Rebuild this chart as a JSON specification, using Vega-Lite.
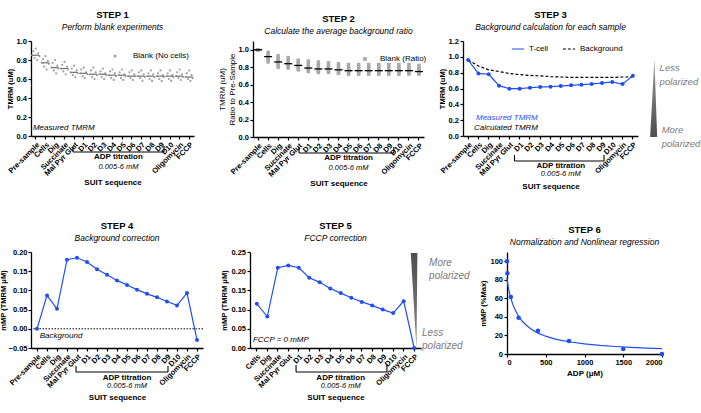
{
  "$schema": "https://vega.github.io/schema/vega-lite/v6.json",
  "background": "white",
  "padding": {"left": -1, "top": 10, "right": 0, "bottom": 0},
  "config": {
    "font": "Liberation Sans",
    "view": {"stroke": null},
    "axis": {
      "grid": false,
      "labelOverlap": false,
      "domainColor": "#000000",
      "domainWidth": 1.3,
      "tickColor": "#000000",
      "tickWidth": 1.2,
      "tickSize": 3,
      "labelFontSize": 7.5,
      "labelFontWeight": "bold",
      "labelColor": "#000000",
      "labelPadding": 1.5,
      "titleFontSize": 7.5,
      "titleFontWeight": "bold",
      "titleColor": "#000000",
      "titlePadding": 2
    },
    "title": {
      "fontSize": 9.5,
      "fontWeight": "bold",
      "color": "#000000",
      "subtitleFontSize": 8.5,
      "subtitleFontStyle": "italic",
      "subtitleColor": "#000000",
      "subtitlePadding": 3,
      "offset": 6,
      "anchor": "middle"
    },
    "legend": {"labelFontSize": 8, "labelColor": "#000000", "padding": 0}
  },
  "datasets": {
    "blank": [
      {"step": "Pre-sample", "rep": 1, "tmrm": 0.85}, {"step": "Pre-sample", "rep": 2, "tmrm": 0.89}, {"step": "Pre-sample", "rep": 3, "tmrm": 0.82}, {"step": "Pre-sample", "rep": 4, "tmrm": 0.92}, {"step": "Pre-sample", "rep": 5, "tmrm": 0.80}, {"step": "Pre-sample", "rep": 6, "tmrm": 0.87}, {"step": "Pre-sample", "rep": 7, "tmrm": 0.84},
      {"step": "Cells", "rep": 1, "tmrm": 0.77}, {"step": "Cells", "rep": 2, "tmrm": 0.81}, {"step": "Cells", "rep": 3, "tmrm": 0.73}, {"step": "Cells", "rep": 4, "tmrm": 0.84}, {"step": "Cells", "rep": 5, "tmrm": 0.70}, {"step": "Cells", "rep": 6, "tmrm": 0.79}, {"step": "Cells", "rep": 7, "tmrm": 0.76},
      {"step": "Dig", "rep": 1, "tmrm": 0.72}, {"step": "Dig", "rep": 2, "tmrm": 0.77}, {"step": "Dig", "rep": 3, "tmrm": 0.69}, {"step": "Dig", "rep": 4, "tmrm": 0.80}, {"step": "Dig", "rep": 5, "tmrm": 0.66}, {"step": "Dig", "rep": 6, "tmrm": 0.74}, {"step": "Dig", "rep": 7, "tmrm": 0.71},
      {"step": "Succinate", "rep": 1, "tmrm": 0.71}, {"step": "Succinate", "rep": 2, "tmrm": 0.75}, {"step": "Succinate", "rep": 3, "tmrm": 0.68}, {"step": "Succinate", "rep": 4, "tmrm": 0.78}, {"step": "Succinate", "rep": 5, "tmrm": 0.65}, {"step": "Succinate", "rep": 6, "tmrm": 0.73}, {"step": "Succinate", "rep": 7, "tmrm": 0.70},
      {"step": "Mal Pyr Glut", "rep": 1, "tmrm": 0.67}, {"step": "Mal Pyr Glut", "rep": 2, "tmrm": 0.71}, {"step": "Mal Pyr Glut", "rep": 3, "tmrm": 0.64}, {"step": "Mal Pyr Glut", "rep": 4, "tmrm": 0.74}, {"step": "Mal Pyr Glut", "rep": 5, "tmrm": 0.62}, {"step": "Mal Pyr Glut", "rep": 6, "tmrm": 0.69}, {"step": "Mal Pyr Glut", "rep": 7, "tmrm": 0.66},
      {"step": "D1", "rep": 1, "tmrm": 0.66}, {"step": "D1", "rep": 2, "tmrm": 0.70}, {"step": "D1", "rep": 3, "tmrm": 0.63}, {"step": "D1", "rep": 4, "tmrm": 0.72}, {"step": "D1", "rep": 5, "tmrm": 0.61}, {"step": "D1", "rep": 6, "tmrm": 0.67}, {"step": "D1", "rep": 7, "tmrm": 0.65},
      {"step": "D2", "rep": 1, "tmrm": 0.65}, {"step": "D2", "rep": 2, "tmrm": 0.69}, {"step": "D2", "rep": 3, "tmrm": 0.62}, {"step": "D2", "rep": 4, "tmrm": 0.72}, {"step": "D2", "rep": 5, "tmrm": 0.60}, {"step": "D2", "rep": 6, "tmrm": 0.67}, {"step": "D2", "rep": 7, "tmrm": 0.64},
      {"step": "D3", "rep": 1, "tmrm": 0.65}, {"step": "D3", "rep": 2, "tmrm": 0.68}, {"step": "D3", "rep": 3, "tmrm": 0.62}, {"step": "D3", "rep": 4, "tmrm": 0.71}, {"step": "D3", "rep": 5, "tmrm": 0.60}, {"step": "D3", "rep": 6, "tmrm": 0.66}, {"step": "D3", "rep": 7, "tmrm": 0.64},
      {"step": "D4", "rep": 1, "tmrm": 0.64}, {"step": "D4", "rep": 2, "tmrm": 0.68}, {"step": "D4", "rep": 3, "tmrm": 0.61}, {"step": "D4", "rep": 4, "tmrm": 0.70}, {"step": "D4", "rep": 5, "tmrm": 0.59}, {"step": "D4", "rep": 6, "tmrm": 0.66}, {"step": "D4", "rep": 7, "tmrm": 0.63},
      {"step": "D5", "rep": 1, "tmrm": 0.64}, {"step": "D5", "rep": 2, "tmrm": 0.67}, {"step": "D5", "rep": 3, "tmrm": 0.61}, {"step": "D5", "rep": 4, "tmrm": 0.70}, {"step": "D5", "rep": 5, "tmrm": 0.59}, {"step": "D5", "rep": 6, "tmrm": 0.65}, {"step": "D5", "rep": 7, "tmrm": 0.63},
      {"step": "D6", "rep": 1, "tmrm": 0.63}, {"step": "D6", "rep": 2, "tmrm": 0.67}, {"step": "D6", "rep": 3, "tmrm": 0.61}, {"step": "D6", "rep": 4, "tmrm": 0.69}, {"step": "D6", "rep": 5, "tmrm": 0.59}, {"step": "D6", "rep": 6, "tmrm": 0.65}, {"step": "D6", "rep": 7, "tmrm": 0.63},
      {"step": "D7", "rep": 1, "tmrm": 0.63}, {"step": "D7", "rep": 2, "tmrm": 0.67}, {"step": "D7", "rep": 3, "tmrm": 0.61}, {"step": "D7", "rep": 4, "tmrm": 0.69}, {"step": "D7", "rep": 5, "tmrm": 0.58}, {"step": "D7", "rep": 6, "tmrm": 0.65}, {"step": "D7", "rep": 7, "tmrm": 0.62},
      {"step": "D8", "rep": 1, "tmrm": 0.63}, {"step": "D8", "rep": 2, "tmrm": 0.66}, {"step": "D8", "rep": 3, "tmrm": 0.60}, {"step": "D8", "rep": 4, "tmrm": 0.69}, {"step": "D8", "rep": 5, "tmrm": 0.58}, {"step": "D8", "rep": 6, "tmrm": 0.65}, {"step": "D8", "rep": 7, "tmrm": 0.62},
      {"step": "D9", "rep": 1, "tmrm": 0.63}, {"step": "D9", "rep": 2, "tmrm": 0.66}, {"step": "D9", "rep": 3, "tmrm": 0.60}, {"step": "D9", "rep": 4, "tmrm": 0.69}, {"step": "D9", "rep": 5, "tmrm": 0.58}, {"step": "D9", "rep": 6, "tmrm": 0.64}, {"step": "D9", "rep": 7, "tmrm": 0.62},
      {"step": "D10", "rep": 1, "tmrm": 0.63}, {"step": "D10", "rep": 2, "tmrm": 0.66}, {"step": "D10", "rep": 3, "tmrm": 0.60}, {"step": "D10", "rep": 4, "tmrm": 0.69}, {"step": "D10", "rep": 5, "tmrm": 0.58}, {"step": "D10", "rep": 6, "tmrm": 0.64}, {"step": "D10", "rep": 7, "tmrm": 0.62},
      {"step": "Oligomycin", "rep": 1, "tmrm": 0.63}, {"step": "Oligomycin", "rep": 2, "tmrm": 0.67}, {"step": "Oligomycin", "rep": 3, "tmrm": 0.61}, {"step": "Oligomycin", "rep": 4, "tmrm": 0.70}, {"step": "Oligomycin", "rep": 5, "tmrm": 0.59}, {"step": "Oligomycin", "rep": 6, "tmrm": 0.65}, {"step": "Oligomycin", "rep": 7, "tmrm": 0.62},
      {"step": "FCCP", "rep": 1, "tmrm": 0.62}, {"step": "FCCP", "rep": 2, "tmrm": 0.66}, {"step": "FCCP", "rep": 3, "tmrm": 0.60}, {"step": "FCCP", "rep": 4, "tmrm": 0.69}, {"step": "FCCP", "rep": 5, "tmrm": 0.58}, {"step": "FCCP", "rep": 6, "tmrm": 0.64}, {"step": "FCCP", "rep": 7, "tmrm": 0.61}
    ],
    "ratio": [
      {"step": "Pre-sample", "rep": 1, "ratio": 1.0}, {"step": "Pre-sample", "rep": 2, "ratio": 1.0}, {"step": "Pre-sample", "rep": 3, "ratio": 1.0}, {"step": "Pre-sample", "rep": 4, "ratio": 1.0}, {"step": "Pre-sample", "rep": 5, "ratio": 1.0}, {"step": "Pre-sample", "rep": 6, "ratio": 1.0}, {"step": "Pre-sample", "rep": 7, "ratio": 1.0},
      {"step": "Cells", "rep": 1, "ratio": 0.92}, {"step": "Cells", "rep": 2, "ratio": 0.95}, {"step": "Cells", "rep": 3, "ratio": 0.89}, {"step": "Cells", "rep": 4, "ratio": 0.97}, {"step": "Cells", "rep": 5, "ratio": 0.86}, {"step": "Cells", "rep": 6, "ratio": 0.93}, {"step": "Cells", "rep": 7, "ratio": 0.91},
      {"step": "Dig", "rep": 1, "ratio": 0.86}, {"step": "Dig", "rep": 2, "ratio": 0.90}, {"step": "Dig", "rep": 3, "ratio": 0.83}, {"step": "Dig", "rep": 4, "ratio": 0.93}, {"step": "Dig", "rep": 5, "ratio": 0.80}, {"step": "Dig", "rep": 6, "ratio": 0.88}, {"step": "Dig", "rep": 7, "ratio": 0.85},
      {"step": "Succinate", "rep": 1, "ratio": 0.84}, {"step": "Succinate", "rep": 2, "ratio": 0.88}, {"step": "Succinate", "rep": 3, "ratio": 0.81}, {"step": "Succinate", "rep": 4, "ratio": 0.91}, {"step": "Succinate", "rep": 5, "ratio": 0.79}, {"step": "Succinate", "rep": 6, "ratio": 0.86}, {"step": "Succinate", "rep": 7, "ratio": 0.83},
      {"step": "Mal Pyr Glut", "rep": 1, "ratio": 0.82}, {"step": "Mal Pyr Glut", "rep": 2, "ratio": 0.86}, {"step": "Mal Pyr Glut", "rep": 3, "ratio": 0.79}, {"step": "Mal Pyr Glut", "rep": 4, "ratio": 0.88}, {"step": "Mal Pyr Glut", "rep": 5, "ratio": 0.77}, {"step": "Mal Pyr Glut", "rep": 6, "ratio": 0.84}, {"step": "Mal Pyr Glut", "rep": 7, "ratio": 0.81},
      {"step": "D1", "rep": 1, "ratio": 0.79}, {"step": "D1", "rep": 2, "ratio": 0.84}, {"step": "D1", "rep": 3, "ratio": 0.77}, {"step": "D1", "rep": 4, "ratio": 0.87}, {"step": "D1", "rep": 5, "ratio": 0.75}, {"step": "D1", "rep": 6, "ratio": 0.81}, {"step": "D1", "rep": 7, "ratio": 0.78},
      {"step": "D2", "rep": 1, "ratio": 0.78}, {"step": "D2", "rep": 2, "ratio": 0.83}, {"step": "D2", "rep": 3, "ratio": 0.76}, {"step": "D2", "rep": 4, "ratio": 0.86}, {"step": "D2", "rep": 5, "ratio": 0.74}, {"step": "D2", "rep": 6, "ratio": 0.80}, {"step": "D2", "rep": 7, "ratio": 0.77},
      {"step": "D3", "rep": 1, "ratio": 0.78}, {"step": "D3", "rep": 2, "ratio": 0.82}, {"step": "D3", "rep": 3, "ratio": 0.76}, {"step": "D3", "rep": 4, "ratio": 0.85}, {"step": "D3", "rep": 5, "ratio": 0.74}, {"step": "D3", "rep": 6, "ratio": 0.80}, {"step": "D3", "rep": 7, "ratio": 0.77},
      {"step": "D4", "rep": 1, "ratio": 0.77}, {"step": "D4", "rep": 2, "ratio": 0.81}, {"step": "D4", "rep": 3, "ratio": 0.75}, {"step": "D4", "rep": 4, "ratio": 0.84}, {"step": "D4", "rep": 5, "ratio": 0.73}, {"step": "D4", "rep": 6, "ratio": 0.79}, {"step": "D4", "rep": 7, "ratio": 0.76},
      {"step": "D5", "rep": 1, "ratio": 0.76}, {"step": "D5", "rep": 2, "ratio": 0.80}, {"step": "D5", "rep": 3, "ratio": 0.74}, {"step": "D5", "rep": 4, "ratio": 0.83}, {"step": "D5", "rep": 5, "ratio": 0.72}, {"step": "D5", "rep": 6, "ratio": 0.78}, {"step": "D5", "rep": 7, "ratio": 0.75},
      {"step": "D6", "rep": 1, "ratio": 0.76}, {"step": "D6", "rep": 2, "ratio": 0.80}, {"step": "D6", "rep": 3, "ratio": 0.74}, {"step": "D6", "rep": 4, "ratio": 0.83}, {"step": "D6", "rep": 5, "ratio": 0.72}, {"step": "D6", "rep": 6, "ratio": 0.78}, {"step": "D6", "rep": 7, "ratio": 0.75},
      {"step": "D7", "rep": 1, "ratio": 0.76}, {"step": "D7", "rep": 2, "ratio": 0.80}, {"step": "D7", "rep": 3, "ratio": 0.74}, {"step": "D7", "rep": 4, "ratio": 0.83}, {"step": "D7", "rep": 5, "ratio": 0.72}, {"step": "D7", "rep": 6, "ratio": 0.78}, {"step": "D7", "rep": 7, "ratio": 0.75},
      {"step": "D8", "rep": 1, "ratio": 0.76}, {"step": "D8", "rep": 2, "ratio": 0.80}, {"step": "D8", "rep": 3, "ratio": 0.74}, {"step": "D8", "rep": 4, "ratio": 0.83}, {"step": "D8", "rep": 5, "ratio": 0.72}, {"step": "D8", "rep": 6, "ratio": 0.78}, {"step": "D8", "rep": 7, "ratio": 0.75},
      {"step": "D9", "rep": 1, "ratio": 0.76}, {"step": "D9", "rep": 2, "ratio": 0.80}, {"step": "D9", "rep": 3, "ratio": 0.74}, {"step": "D9", "rep": 4, "ratio": 0.83}, {"step": "D9", "rep": 5, "ratio": 0.72}, {"step": "D9", "rep": 6, "ratio": 0.78}, {"step": "D9", "rep": 7, "ratio": 0.75},
      {"step": "D10", "rep": 1, "ratio": 0.76}, {"step": "D10", "rep": 2, "ratio": 0.80}, {"step": "D10", "rep": 3, "ratio": 0.74}, {"step": "D10", "rep": 4, "ratio": 0.83}, {"step": "D10", "rep": 5, "ratio": 0.72}, {"step": "D10", "rep": 6, "ratio": 0.78}, {"step": "D10", "rep": 7, "ratio": 0.75},
      {"step": "Oligomycin", "rep": 1, "ratio": 0.76}, {"step": "Oligomycin", "rep": 2, "ratio": 0.80}, {"step": "Oligomycin", "rep": 3, "ratio": 0.74}, {"step": "Oligomycin", "rep": 4, "ratio": 0.83}, {"step": "Oligomycin", "rep": 5, "ratio": 0.72}, {"step": "Oligomycin", "rep": 6, "ratio": 0.78}, {"step": "Oligomycin", "rep": 7, "ratio": 0.75},
      {"step": "FCCP", "rep": 1, "ratio": 0.75}, {"step": "FCCP", "rep": 2, "ratio": 0.79}, {"step": "FCCP", "rep": 3, "ratio": 0.73}, {"step": "FCCP", "rep": 4, "ratio": 0.82}, {"step": "FCCP", "rep": 5, "ratio": 0.72}, {"step": "FCCP", "rep": 6, "ratio": 0.77}, {"step": "FCCP", "rep": 7, "ratio": 0.74}
    ],
    "tcell": [
      {"step": "Pre-sample", "series": "T-cell", "tmrm": 0.96}, {"step": "Cells", "series": "T-cell", "tmrm": 0.79}, {"step": "Dig", "series": "T-cell", "tmrm": 0.78}, {"step": "Succinate", "series": "T-cell", "tmrm": 0.636}, {"step": "Mal Pyr Glut", "series": "T-cell", "tmrm": 0.598}, {"step": "D1", "series": "T-cell", "tmrm": 0.598}, {"step": "D2", "series": "T-cell", "tmrm": 0.61}, {"step": "D3", "series": "T-cell", "tmrm": 0.619}, {"step": "D4", "series": "T-cell", "tmrm": 0.623}, {"step": "D5", "series": "T-cell", "tmrm": 0.632}, {"step": "D6", "series": "T-cell", "tmrm": 0.64}, {"step": "D7", "series": "T-cell", "tmrm": 0.648}, {"step": "D8", "series": "T-cell", "tmrm": 0.657}, {"step": "D9", "series": "T-cell", "tmrm": 0.67}, {"step": "D10", "series": "T-cell", "tmrm": 0.682}, {"step": "Oligomycin", "series": "T-cell", "tmrm": 0.657}, {"step": "FCCP", "series": "T-cell", "tmrm": 0.762},
      {"step": "Pre-sample", "series": "Background", "tmrm": 0.96}, {"step": "Cells", "series": "Background", "tmrm": 0.885}, {"step": "Dig", "series": "Background", "tmrm": 0.835}, {"step": "Succinate", "series": "Background", "tmrm": 0.815}, {"step": "Mal Pyr Glut", "series": "Background", "tmrm": 0.79}, {"step": "D1", "series": "Background", "tmrm": 0.775}, {"step": "D2", "series": "Background", "tmrm": 0.765}, {"step": "D3", "series": "Background", "tmrm": 0.76}, {"step": "D4", "series": "Background", "tmrm": 0.75}, {"step": "D5", "series": "Background", "tmrm": 0.745}, {"step": "D6", "series": "Background", "tmrm": 0.74}, {"step": "D7", "series": "Background", "tmrm": 0.74}, {"step": "D8", "series": "Background", "tmrm": 0.74}, {"step": "D9", "series": "Background", "tmrm": 0.74}, {"step": "D10", "series": "Background", "tmrm": 0.74}, {"step": "Oligomycin", "series": "Background", "tmrm": 0.745}, {"step": "FCCP", "series": "Background", "tmrm": 0.745}
    ],
    "corrected": [
      {"step": "Pre-sample", "mmp": 0.0}, {"step": "Cells", "mmp": 0.087}, {"step": "Dig", "mmp": 0.052}, {"step": "Succinate", "mmp": 0.18}, {"step": "Mal Pyr Glut", "mmp": 0.185}, {"step": "D1", "mmp": 0.174}, {"step": "D2", "mmp": 0.155}, {"step": "D3", "mmp": 0.141}, {"step": "D4", "mmp": 0.126}, {"step": "D5", "mmp": 0.114}, {"step": "D6", "mmp": 0.102}, {"step": "D7", "mmp": 0.091}, {"step": "D8", "mmp": 0.082}, {"step": "D9", "mmp": 0.071}, {"step": "D10", "mmp": 0.061}, {"step": "Oligomycin", "mmp": 0.093}, {"step": "FCCP", "mmp": -0.029}
    ],
    "fccp": [
      {"step": "Cells", "mmp": 0.115}, {"step": "Dig", "mmp": 0.082}, {"step": "Succinate", "mmp": 0.209}, {"step": "Mal Pyr Glut", "mmp": 0.215}, {"step": "D1", "mmp": 0.209}, {"step": "D2", "mmp": 0.183}, {"step": "D3", "mmp": 0.171}, {"step": "D4", "mmp": 0.155}, {"step": "D5", "mmp": 0.143}, {"step": "D6", "mmp": 0.131}, {"step": "D7", "mmp": 0.12}, {"step": "D8", "mmp": 0.111}, {"step": "D9", "mmp": 0.1}, {"step": "D10", "mmp": 0.091}, {"step": "Oligomycin", "mmp": 0.122}, {"step": "FCCP", "mmp": 0.0}
    ],
    "normalized": [
      {"adp": 0, "pct": 100}, {"adp": 5, "pct": 87}, {"adp": 50, "pct": 61.5}, {"adp": 150, "pct": 39}, {"adp": 400, "pct": 25}, {"adp": 800, "pct": 14}, {"adp": 1500, "pct": 5.5}, {"adp": 2000, "pct": 0}
    ],
    "fit": [
      {"adp": 0, "pct": 82}, {"adp": 10, "pct": 75}, {"adp": 20, "pct": 70.5}, {"adp": 30, "pct": 66.5}, {"adp": 50, "pct": 60}, {"adp": 75, "pct": 53.5}, {"adp": 100, "pct": 48.5}, {"adp": 150, "pct": 40.5}, {"adp": 200, "pct": 35}, {"adp": 250, "pct": 31}, {"adp": 300, "pct": 27.5}, {"adp": 400, "pct": 22.5}, {"adp": 500, "pct": 19.2}, {"adp": 600, "pct": 16.6}, {"adp": 700, "pct": 14.7}, {"adp": 800, "pct": 13.2}, {"adp": 1000, "pct": 10.9}, {"adp": 1200, "pct": 9.3}, {"adp": 1400, "pct": 8.1}, {"adp": 1600, "pct": 7.2}, {"adp": 1800, "pct": 6.4}, {"adp": 2000, "pct": 5.9}
    ]
  },
  "spacing": 30,
  "resolve": {"scale": {"color": "independent", "strokeDash": "independent"}, "legend": {"color": "independent", "strokeDash": "independent"}},
  "vconcat": [
    {
      "bounds": "flush",
      "spacing": 0,
      "resolve": {"scale": {"color": "independent", "strokeDash": "independent"}, "legend": {"color": "independent", "strokeDash": "independent"}},
      "hconcat": [
        {
          "width": 163,
          "height": 95,
          "title": {"text": "STEP 1", "subtitle": "Perform blank experiments"},
          "layer": [
            {
              "data": {"name": "blank"},
              "mark": {"type": "circle", "size": 5, "opacity": 1},
              "encoding": {
                "x": {
                  "field": "step", "type": "nominal",
                  "scale": {"type": "band", "domain": ["Pre-sample", "Cells", "Dig", "Succinate", "Mal Pyr Glut", "D1", "D2", "D3", "D4", "D5", "D6", "D7", "D8", "D9", "D10", "Oligomycin", "FCCP"], "paddingInner": 0, "paddingOuter": 0},
                  "axis": {"labelAngle": -45, "title": "SUIT sequence", "titleFontSize": 8, "titlePadding": 2}
                },
                "xOffset": {"field": "rep", "type": "nominal", "scale": {"type": "point", "padding": 1}},
                "y": {
                  "field": "tmrm", "type": "quantitative",
                  "scale": {"domain": [0, 1], "nice": false},
                  "axis": {"values": [0, 0.2, 0.4, 0.6, 0.8, 1], "tickCount": 20, "format": ".1f", "title": "TMRM (uM)"}
                },
                "color": {
                  "datum": "Blank (No cells)",
                  "scale": {"range": ["#a0a0a0"]},
                  "legend": {"title": null, "orient": "none", "legendX": 80, "legendY": 11, "symbolType": "circle", "symbolSize": 10, "labelOffset": 14}
                }
              }
            },
            {
              "data": {"name": "blank"},
              "mark": {"type": "tick", "color": "#707070", "thickness": 1.2, "size": 7},
              "encoding": {
                "x": {"field": "step", "type": "nominal"},
                "y": {"aggregate": "median", "field": "tmrm", "type": "quantitative"}
              }
            },
            {
              "data": {"values": [{}]},
              "mark": {"type": "text", "text": "Measured TMRM", "fontStyle": "italic", "fontSize": 8, "align": "left"},
              "encoding": {"x": {"datum": "Pre-sample", "bandPosition": 0.2}, "y": {"datum": 0.084}}
            },
            {
              "data": {"values": [{}]},
              "mark": {"type": "rule", "color": "#000000", "strokeWidth": 1.1},
              "encoding": {"x": {"datum": "Mal Pyr Glut", "bandPosition": 0.38}, "x2": {"datum": "D9", "bandPosition": 0.87}, "y": {"datum": -0.168}}
            },
            {
              "data": {"values": [{}]},
              "mark": {"type": "rule", "color": "#000000", "strokeWidth": 1.1},
              "encoding": {"x": {"datum": "Mal Pyr Glut", "bandPosition": 0.38}, "y": {"datum": -0.168}, "y2": {"datum": -0.105}}
            },
            {
              "data": {"values": [{}]},
              "mark": {"type": "rule", "color": "#000000", "strokeWidth": 1.1},
              "encoding": {"x": {"datum": "D9", "bandPosition": 0.87}, "y": {"datum": -0.168}, "y2": {"datum": -0.105}}
            },
            {
              "data": {"values": [{}]},
              "mark": {"type": "text", "text": "ADP titration", "fontWeight": "bold", "fontSize": 8},
              "encoding": {"x": {"datum": "D5", "bandPosition": 0.12}, "y": {"datum": -0.221}}
            },
            {
              "data": {"values": [{}]},
              "mark": {"type": "text", "text": "0.005-6 mM", "fontStyle": "italic", "fontSize": 7.5},
              "encoding": {"x": {"datum": "D5", "bandPosition": 0.12}, "y": {"datum": -0.326}}
            }
          ]
        },
        {"width": 59, "height": 1, "data": {"values": []}, "mark": "point"},
        {
          "width": 171,
          "height": 96,
          "title": {"text": "STEP 2", "subtitle": "Calculate the average background ratio"},
          "layer": [
            {
              "data": {"name": "ratio"},
              "mark": {"type": "square", "size": 12, "opacity": 1},
              "encoding": {
                "x": {
                  "field": "step", "type": "nominal", "bandPosition": 0.5,
                  "scale": {"type": "band", "domain": ["Pre-sample", "Cells", "Dig", "Succinate", "Mal Pyr Glut", "D1", "D2", "D3", "D4", "D5", "D6", "D7", "D8", "D9", "D10", "Oligomycin", "FCCP"], "paddingInner": 0, "paddingOuter": 0},
                  "axis": {"labelAngle": -45, "title": "SUIT sequence", "titleFontSize": 8, "titlePadding": 2}
                },
                "y": {
                  "field": "ratio", "type": "quantitative",
                  "scale": {"domain": [0, 1.1], "nice": false},
                  "axis": {"values": [0, 0.2, 0.4, 0.6, 0.8, 1], "tickCount": 20, "format": ".1f", "title": ["TMRM (uM)", "Ratio to Pre-Sample"], "titleFontWeight": "normal", "titleFontSize": 8}
                },
                "color": {
                  "datum": "Blank (Ratio)",
                  "scale": {"range": ["#a8a8a8"]},
                  "legend": {"title": null, "orient": "none", "legendX": 108, "legendY": 14, "symbolType": "square", "symbolSize": 14, "labelOffset": 11}
                }
              }
            },
            {
              "data": {"name": "ratio"},
              "mark": {"type": "tick", "color": "#000000", "thickness": 1.3, "size": 8},
              "encoding": {
                "x": {"field": "step", "type": "nominal"},
                "y": {"aggregate": "median", "field": "ratio", "type": "quantitative"}
              }
            },
            {
              "data": {"values": [{}]},
              "mark": {"type": "rule", "color": "#000000", "strokeWidth": 1.1},
              "encoding": {"x": {"datum": "Mal Pyr Glut", "bandPosition": 0.58}, "x2": {"datum": "D9", "bandPosition": 1}, "y": {"datum": -0.183}}
            },
            {
              "data": {"values": [{}]},
              "mark": {"type": "rule", "color": "#000000", "strokeWidth": 1.1},
              "encoding": {"x": {"datum": "Mal Pyr Glut", "bandPosition": 0.58}, "y": {"datum": -0.183}, "y2": {"datum": -0.115}}
            },
            {
              "data": {"values": [{}]},
              "mark": {"type": "rule", "color": "#000000", "strokeWidth": 1.1},
              "encoding": {"x": {"datum": "D9", "bandPosition": 1}, "y": {"datum": -0.183}, "y2": {"datum": -0.115}}
            },
            {
              "data": {"values": [{}]},
              "mark": {"type": "text", "text": "ADP titration", "fontWeight": "bold", "fontSize": 8},
              "encoding": {"x": {"datum": "D5", "bandPosition": 0.5}, "y": {"datum": -0.241}}
            },
            {
              "data": {"values": [{}]},
              "mark": {"type": "text", "text": "0.005-6 mM", "fontStyle": "italic", "fontSize": 7.5},
              "encoding": {"x": {"datum": "D5", "bandPosition": 0.5}, "y": {"datum": -0.355}}
            }
          ]
        },
        {"width": 39, "height": 1, "data": {"values": []}, "mark": "point"},
        {
          "width": 175,
          "height": 95,
          "title": {"text": "STEP 3", "subtitle": "Background calculation for each sample"},
          "layer": [
            {
              "data": {"name": "tcell"},
              "mark": {"type": "line", "strokeWidth": 1.2},
              "encoding": {
                "x": {
                  "field": "step", "type": "nominal", "bandPosition": 0.5,
                  "scale": {"type": "band", "domain": ["Pre-sample", "Cells", "Dig", "Succinate", "Mal Pyr Glut", "D1", "D2", "D3", "D4", "D5", "D6", "D7", "D8", "D9", "D10", "Oligomycin", "FCCP"], "paddingInner": 0, "paddingOuter": 0},
                  "axis": {"labelAngle": -45, "title": "SUIT sequence", "titleFontSize": 8, "titlePadding": 6}
                },
                "y": {
                  "field": "tmrm", "type": "quantitative",
                  "scale": {"domain": [0, 1.2], "nice": false},
                  "axis": {"values": [0, 0.2, 0.4, 0.6, 0.8, 1, 1.2], "tickCount": 20, "format": ".1f", "title": "TMRM (uM)"}
                },
                "color": {
                  "field": "series", "type": "nominal",
                  "scale": {"domain": ["T-cell", "Background"], "range": ["#1f4ef5", "#000000"]},
                  "legend": {"title": null, "orient": "none", "legendX": 48, "legendY": 1, "direction": "horizontal", "symbolType": "stroke", "symbolSize": 150, "symbolStrokeWidth": 1.2, "labelOffset": 4, "columnPadding": 11}
                },
                "strokeDash": {
                  "field": "series", "type": "nominal",
                  "scale": {"domain": ["T-cell", "Background"], "range": [[1, 0], [3, 2]]},
                  "legend": {"title": null, "orient": "none", "legendX": 48, "legendY": 1, "direction": "horizontal", "symbolType": "stroke", "symbolSize": 150, "symbolStrokeWidth": 1.2, "labelOffset": 4, "columnPadding": 11}
                }
              }
            },
            {
              "data": {"name": "tcell"},
              "transform": [{"filter": "datum.series == 'T-cell'"}],
              "mark": {"type": "circle", "size": 16, "opacity": 1, "color": "#1f4ef5"},
              "encoding": {
                "x": {"field": "step", "type": "nominal", "bandPosition": 0.5},
                "y": {"field": "tmrm", "type": "quantitative"}
              }
            },
            {
              "data": {"values": [{}]},
              "mark": {"type": "text", "text": "Measured TMRM", "fontStyle": "italic", "fontSize": 8, "align": "left", "color": "#1f4ef5"},
              "encoding": {"x": {"datum": "Cells", "bandPosition": 0.26}, "y": {"datum": 0.227}}
            },
            {
              "data": {"values": [{}]},
              "mark": {"type": "text", "text": "Calculated TMRM", "fontStyle": "italic", "fontSize": 8, "align": "left"},
              "encoding": {"x": {"datum": "Cells", "bandPosition": 0.07}, "y": {"datum": 0.101}}
            },
            {
              "data": {"values": [{}]},
              "mark": {"type": "rule", "color": "#000000", "strokeWidth": 1.1},
              "encoding": {"x": {"datum": "D1", "bandPosition": 0}, "x2": {"datum": "D9", "bandPosition": 0.7}, "y": {"datum": -0.316}}
            },
            {
              "data": {"values": [{}]},
              "mark": {"type": "rule", "color": "#000000", "strokeWidth": 1.1},
              "encoding": {"x": {"datum": "D1", "bandPosition": 0}, "y": {"datum": -0.316}, "y2": {"datum": -0.24}}
            },
            {
              "data": {"values": [{}]},
              "mark": {"type": "rule", "color": "#000000", "strokeWidth": 1.1},
              "encoding": {"x": {"datum": "D9", "bandPosition": 0.7}, "y": {"datum": -0.316}, "y2": {"datum": -0.24}}
            },
            {
              "data": {"values": [{}]},
              "mark": {"type": "text", "text": "ADP titration", "fontWeight": "bold", "fontSize": 8},
              "encoding": {"x": {"datum": "D5", "bandPosition": 0.5}, "y": {"datum": -0.379}}
            },
            {
              "data": {"values": [{}]},
              "mark": {"type": "text", "text": "0.005-6 mM", "fontStyle": "italic", "fontSize": 7.5},
              "encoding": {"x": {"datum": "D5", "bandPosition": 0.5}, "y": {"datum": -0.48}}
            },
            {
              "data": {"values": [{}]},
              "mark": {
                "type": "point", "filled": true, "opacity": 1, "size": 6084, "strokeWidth": 0,
                "shape": "M0.02,-1L0.09,1L-0.09,1Z",
                "fill": {"gradient": "linear", "x1": 0, "y1": 0, "x2": 0, "y2": 1, "stops": [{"offset": 0, "color": "#9a9a9a"}, {"offset": 1, "color": "#4d4d4d"}]}
              },
              "encoding": {"x": {"datum": "FCCP", "bandPosition": 2.52}, "y": {"datum": 0.48}}
            },
            {
              "data": {"values": [{}]},
              "mark": {"type": "text", "text": ["Less", "polarized"], "fontStyle": "italic", "fontSize": 9.5, "lineHeight": 14, "align": "left", "color": "#7a7a7a"},
              "encoding": {"x": {"datum": "FCCP", "bandPosition": 3.1}, "y": {"datum": 0.853}}
            },
            {
              "data": {"values": [{}]},
              "mark": {"type": "text", "text": ["More", "polarized"], "fontStyle": "italic", "fontSize": 9.5, "lineHeight": 14, "align": "left", "color": "#7a7a7a"},
              "encoding": {"x": {"datum": "FCCP", "bandPosition": 3.3}, "y": {"datum": 0.076}}
            }
          ]
        }
      ]
    },
    {
      "bounds": "flush",
      "spacing": 0,
      "hconcat": [
        {
          "width": 172,
          "height": 96,
          "title": {"text": "STEP 4", "subtitle": "Background correction"},
          "layer": [
            {
              "data": {"values": [{}]},
              "mark": {"type": "rule", "color": "#000000", "strokeWidth": 1, "strokeDash": [1.5, 1.5]},
              "encoding": {"y": {"datum": 0}}
            },
            {
              "data": {"name": "corrected"},
              "mark": {"type": "line", "strokeWidth": 1.2, "color": "#1f4ef5", "point": {"filled": true, "size": 16, "color": "#1f4ef5"}},
              "encoding": {
                "x": {
                  "field": "step", "type": "nominal", "bandPosition": 0.5,
                  "scale": {"type": "band", "domain": ["Pre-sample", "Cells", "Dig", "Succinate", "Mal Pyr Glut", "D1", "D2", "D3", "D4", "D5", "D6", "D7", "D8", "D9", "D10", "Oligomycin", "FCCP"], "paddingInner": 0, "paddingOuter": 0.1},
                  "axis": {"labelAngle": -45, "title": "SUIT sequence", "titleFontSize": 8, "titlePadding": 5}
                },
                "y": {
                  "field": "mmp", "type": "quantitative",
                  "scale": {"domain": [-0.05, 0.2], "nice": false},
                  "axis": {"values": [-0.05, 0, 0.05, 0.1, 0.15, 0.2], "tickCount": 20, "format": ".2f", "title": "mMP (TMRM μM)", "labelPadding": 1, "titlePadding": 0.5}
                }
              }
            },
            {
              "data": {"values": [{}]},
              "mark": {"type": "text", "text": "Background", "fontStyle": "italic", "fontSize": 8, "align": "left"},
              "encoding": {"x": {"datum": "Pre-sample", "bandPosition": 0.77}, "y": {"datum": -0.019}}
            },
            {
              "data": {"values": [{}]},
              "mark": {"type": "rule", "color": "#000000", "strokeWidth": 1.1},
              "encoding": {"x": {"datum": "Mal Pyr Glut", "bandPosition": 0.4}, "x2": {"datum": "D9", "bandPosition": 0.6}, "y": {"datum": -0.1125}}
            },
            {
              "data": {"values": [{}]},
              "mark": {"type": "rule", "color": "#000000", "strokeWidth": 1.1},
              "encoding": {"x": {"datum": "Mal Pyr Glut", "bandPosition": 0.4}, "y": {"datum": -0.1125}, "y2": {"datum": -0.097}}
            },
            {
              "data": {"values": [{}]},
              "mark": {"type": "rule", "color": "#000000", "strokeWidth": 1.1},
              "encoding": {"x": {"datum": "D9", "bandPosition": 0.6}, "y": {"datum": -0.1125}, "y2": {"datum": -0.097}}
            },
            {
              "data": {"values": [{}]},
              "mark": {"type": "text", "text": "ADP titration", "fontWeight": "bold", "fontSize": 8},
              "encoding": {"x": {"datum": "D5", "bandPosition": 0.5}, "y": {"datum": -0.128}}
            },
            {
              "data": {"values": [{}]},
              "mark": {"type": "text", "text": "0.005-6 mM", "fontStyle": "italic", "fontSize": 7.5},
              "encoding": {"x": {"datum": "D5", "bandPosition": 0.5}, "y": {"datum": -0.149}}
            }
          ]
        },
        {"width": 47, "height": 1, "data": {"values": []}, "mark": "point"},
        {
          "width": 171,
          "height": 96,
          "title": {"text": "STEP 5", "subtitle": "FCCP correction"},
          "layer": [
            {
              "data": {"name": "fccp"},
              "mark": {"type": "line", "strokeWidth": 1.2, "color": "#1f4ef5", "point": {"filled": true, "size": 16, "color": "#1f4ef5"}},
              "encoding": {
                "x": {
                  "field": "step", "type": "nominal", "bandPosition": 0.5,
                  "scale": {"type": "band", "domain": ["Cells", "Dig", "Succinate", "Mal Pyr Glut", "D1", "D2", "D3", "D4", "D5", "D6", "D7", "D8", "D9", "D10", "Oligomycin", "FCCP"], "paddingInner": 0, "paddingOuter": 0.15},
                  "axis": {"labelAngle": -45, "title": "SUIT sequence", "titleFontSize": 8, "titlePadding": 5}
                },
                "y": {
                  "field": "mmp", "type": "quantitative",
                  "scale": {"domain": [0, 0.25], "nice": false},
                  "axis": {"values": [0, 0.05, 0.1, 0.15, 0.2, 0.25], "tickCount": 20, "format": ".2f", "title": "mMP (TMRM μM)"}
                }
              }
            },
            {
              "data": {"values": [{}]},
              "mark": {"type": "text", "text": "FCCP = 0 mMP", "fontStyle": "italic", "fontSize": 8, "align": "left"},
              "encoding": {"x": {"datum": "Cells", "bandPosition": 0.13}, "y": {"datum": 0.021}}
            },
            {
              "data": {"values": [{}]},
              "mark": {"type": "rule", "color": "#000000", "strokeWidth": 1.1},
              "encoding": {"x": {"datum": "D1", "bandPosition": 0.24}, "x2": {"datum": "D9", "bandPosition": 0.9}, "y": {"datum": -0.0625}}
            },
            {
              "data": {"values": [{}]},
              "mark": {"type": "rule", "color": "#000000", "strokeWidth": 1.1},
              "encoding": {"x": {"datum": "D1", "bandPosition": 0.24}, "y": {"datum": -0.0625}, "y2": {"datum": -0.044}}
            },
            {
              "data": {"values": [{}]},
              "mark": {"type": "rule", "color": "#000000", "strokeWidth": 1.1},
              "encoding": {"x": {"datum": "D9", "bandPosition": 0.9}, "y": {"datum": -0.0625}, "y2": {"datum": -0.044}}
            },
            {
              "data": {"values": [{}]},
              "mark": {"type": "text", "text": "ADP titration", "fontWeight": "bold", "fontSize": 8},
              "encoding": {"x": {"datum": "D5", "bandPosition": 0.5}, "y": {"datum": -0.078}}
            },
            {
              "data": {"values": [{}]},
              "mark": {"type": "text", "text": "0.005-6 mM", "fontStyle": "italic", "fontSize": 7.5},
              "encoding": {"x": {"datum": "D5", "bandPosition": 0.5}, "y": {"datum": -0.099}}
            },
            {
              "data": {"values": [{}]},
              "mark": {
                "type": "point", "filled": true, "opacity": 1, "size": 9025, "strokeWidth": 0,
                "shape": "M-0.07,-1L0.07,-1L0.05,1Z",
                "fill": {"gradient": "linear", "x1": 0, "y1": 0, "x2": 0, "y2": 1, "stops": [{"offset": 0, "color": "#4d4d4d"}, {"offset": 1, "color": "#8a8a8a"}]}
              },
              "encoding": {"x": {"datum": "FCCP", "bandPosition": 0.49}, "y": {"datum": 0.124}}
            },
            {
              "data": {"values": [{}]},
              "mark": {"type": "text", "text": ["More", "polarized"], "fontStyle": "italic", "fontSize": 10, "lineHeight": 13, "align": "left", "color": "#7a7a7a"},
              "encoding": {"x": {"datum": "FCCP", "bandPosition": 1.92}, "y": {"datum": 0.221}}
            },
            {
              "data": {"values": [{}]},
              "mark": {"type": "text", "text": ["Less", "polarized"], "fontStyle": "italic", "fontSize": 10, "lineHeight": 13, "align": "left", "color": "#7a7a7a"},
              "encoding": {"x": {"datum": "FCCP", "bandPosition": 1.25}, "y": {"datum": 0.04}}
            }
          ]
        },
        {"width": 86, "height": 1, "data": {"values": []}, "mark": "point"},
        {
          "width": 155,
          "height": 102,
          "title": {"text": "STEP 6", "subtitle": "Normalization and Nonlinear regression"},
          "layer": [
            {
              "data": {"name": "fit"},
              "mark": {"type": "line", "strokeWidth": 1.2, "color": "#1f4ef5"},
              "encoding": {
                "x": {
                  "field": "adp", "type": "quantitative",
                  "scale": {"domain": [0, 2000], "nice": false},
                  "axis": {"values": [0, 500, 1000, 1500, 2000], "tickCount": 20, "format": "d", "title": "ADP (μM)", "titleFontSize": 8, "titlePadding": 3}
                },
                "y": {
                  "field": "pct", "type": "quantitative",
                  "scale": {"domain": [0, 110], "nice": false},
                  "axis": {"values": [0, 20, 40, 60, 80, 100], "tickCount": 20, "title": "mMP (%Max)"}
                }
              }
            },
            {
              "data": {"name": "normalized"},
              "mark": {"type": "circle", "size": 20, "opacity": 1, "color": "#1f4ef5"},
              "encoding": {
                "x": {"field": "adp", "type": "quantitative"},
                "y": {"field": "pct", "type": "quantitative"}
              }
            }
          ]
        }
      ]
    }
  ]
}
